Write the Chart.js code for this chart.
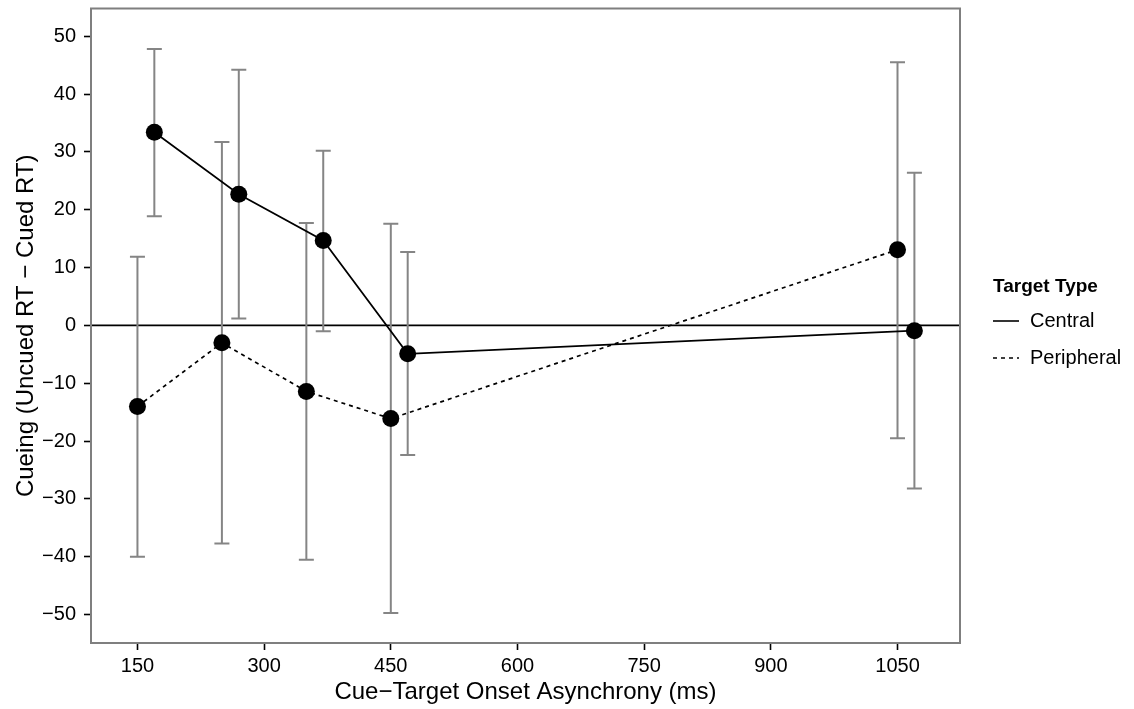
<!DOCTYPE html>
<html>
<head>
<meta charset="utf-8">
<script src="https://cdn.jsdelivr.net/npm/chart.js@4.4.1/dist/chart.umd.min.js"></script>
<style>
  html, body { margin: 0; padding: 0; background: #ffffff; }
  #wrap { width: 1134px; height: 709px; }
</style>
</head>
<body>
<div id="wrap"><canvas id="c" width="1134" height="709"></canvas></div>
<script>
// ---- data ----
const xTicks = [150, 300, 450, 600, 750, 900, 1050];
const yTicks = [-50, -40, -30, -20, -10, 0, 10, 20, 30, 40, 50];

const seriesNames = ['Central', 'Peripheral'];

const ctoaCentral = [170, 270, 370, 470, 1070];
const cueingCentral = [33.4, 22.7, 14.7, -4.9, -0.9];
const lowCentral = [18.9, 1.2, -1.0, -22.4, -28.2];
const highCentral = [47.8, 44.2, 30.2, 12.7, 26.4];

const ctoaPeripheral = [150, 250, 350, 450, 1050];
const cueingPeripheral = [-14.0, -3.0, -11.4, -16.1, 13.1];
const lowPeripheral = [-40.0, -37.7, -40.5, -49.7, -19.5];
const highPeripheral = [11.9, 31.7, 17.7, 17.6, 45.5];

const xTitle = 'Cue\u2212Target Onset Asynchrony (ms)';
const yTitle = 'Cueing (Uncued RT \u2212 Cued RT)';
const legendTitle = 'Target Type';

// ---- build datasets ----
function pts(xs, ys) { return xs.map((x, i) => ({ x: x, y: ys[i] })); }

const FONT = "'Liberation Sans', Arial, Helvetica, sans-serif";

const errorBars = [
  { xs: ctoaCentral, lo: lowCentral, hi: highCentral },
  { xs: ctoaPeripheral, lo: lowPeripheral, hi: highPeripheral }
];

const refPlugin = {
  id: 'refPlugin',
  beforeDatasetsDraw(chart) {
    const { ctx, chartArea: a, scales } = chart;
    const xs = scales.x, ys = scales.y;
    ctx.save();
    // zero reference line
    const y0 = ys.getPixelForValue(0);
    ctx.strokeStyle = '#000000';
    ctx.lineWidth = 1.8;
    ctx.beginPath();
    ctx.moveTo(a.left, y0);
    ctx.lineTo(a.right, y0);
    ctx.stroke();
    // error bars
    ctx.strokeStyle = '#858585';
    ctx.lineWidth = 2;
    const half = 7.5;
    errorBars.forEach(eb => {
      eb.xs.forEach((xv, i) => {
        const px = xs.getPixelForValue(xv);
        const pl = ys.getPixelForValue(eb.lo[i]);
        const ph = ys.getPixelForValue(eb.hi[i]);
        ctx.beginPath();
        ctx.moveTo(px, pl); ctx.lineTo(px, ph);
        ctx.moveTo(px - half, pl); ctx.lineTo(px + half, pl);
        ctx.moveTo(px - half, ph); ctx.lineTo(px + half, ph);
        ctx.stroke();
      });
    });
    ctx.restore();
  },
  afterDraw(chart) {
    const { ctx, chartArea: a } = chart;
    ctx.save();
    // panel border
    ctx.strokeStyle = '#7f7f7f';
    ctx.lineWidth = 2;
    ctx.strokeRect(a.left, a.top, a.right - a.left, a.bottom - a.top);
    // legend
    const lx = 993;
    ctx.fillStyle = '#000000';
    ctx.textBaseline = 'middle';
    ctx.textAlign = 'left';
    ctx.font = 'bold 19px ' + FONT;
    ctx.fillText(legendTitle, lx, 287);
    ctx.font = '20px ' + FONT;
    const rows = [321, 358];
    chart.data.datasets.forEach((ds, i) => {
      const yy = rows[i];
      ctx.strokeStyle = '#000000';
      ctx.lineWidth = 1.6;
      ctx.setLineDash(ds.borderDash || []);
      ctx.beginPath();
      ctx.moveTo(lx, yy);
      ctx.lineTo(lx + 26, yy);
      ctx.stroke();
      ctx.setLineDash([]);
      ctx.fillText(ds.label, lx + 37, yy);
    });
    ctx.restore();
  }
};

new Chart(document.getElementById('c'), {
  type: 'line',
  data: {
    datasets: [
      {
        label: seriesNames[0],
        data: pts(ctoaCentral, cueingCentral),
        borderColor: '#000000',
        backgroundColor: '#000000',
        borderWidth: 1.7,
        pointRadius: 8.5,
        pointBorderWidth: 0,
        pointBackgroundColor: '#000000',
        tension: 0
      },
      {
        label: seriesNames[1],
        data: pts(ctoaPeripheral, cueingPeripheral),
        borderColor: '#000000',
        backgroundColor: '#000000',
        borderWidth: 1.7,
        borderDash: [4, 4],
        pointRadius: 8.5,
        pointBorderWidth: 0,
        pointBackgroundColor: '#000000',
        tension: 0
      }
    ]
  },
  options: {
    responsive: false,
    animation: false,
    events: [],
    layout: { padding: { top: 7, right: 174, left: 0, bottom: 0 } },
    plugins: {
      legend: { display: false },
      tooltip: { enabled: false }
    },
    scales: {
      x: {
        type: 'linear',
        min: 95,
        max: 1124,
        afterBuildTicks(scale) { scale.ticks = xTicks.map(v => ({ value: v })); },
        afterFit(scale) { scale.height = 66; scale.paddingLeft = 0; scale.paddingRight = 0; },
        grid: { display: true, drawOnChartArea: false, drawTicks: true, tickLength: 7, tickColor: '#000000', tickWidth: 1.6 },
        border: { display: false },
        ticks: { color: '#000000', font: { family: FONT, size: 20 }, padding: 4, maxRotation: 0, autoSkip: false,
          callback: v => String(v) },
        title: { display: true, text: xTitle, color: '#000000', font: { family: FONT, size: 24 }, padding: { top: 0, bottom: 2 } }
      },
      y: {
        type: 'linear',
        min: -54.9,
        max: 54.8,
        afterBuildTicks(scale) { scale.ticks = yTicks.map(v => ({ value: v })); },
        afterFit(scale) { scale.width = 91; scale.paddingTop = 0; scale.paddingBottom = 0; },
        grid: { display: true, drawOnChartArea: false, drawTicks: true, tickLength: 7, tickColor: '#000000', tickWidth: 1.6 },
        border: { display: false },
        ticks: {
          color: '#000000', font: { family: FONT, size: 20 }, padding: 8, autoSkip: false,
          callback: v => (v < 0 ? '\u2212' + Math.abs(v) : String(v))
        },
        title: { display: true, text: yTitle, color: '#000000', font: { family: FONT, size: 24 }, padding: { top: 12, bottom: 0 } }
      }
    }
  },
  plugins: [refPlugin]
});
</script>
</body>
</html>
